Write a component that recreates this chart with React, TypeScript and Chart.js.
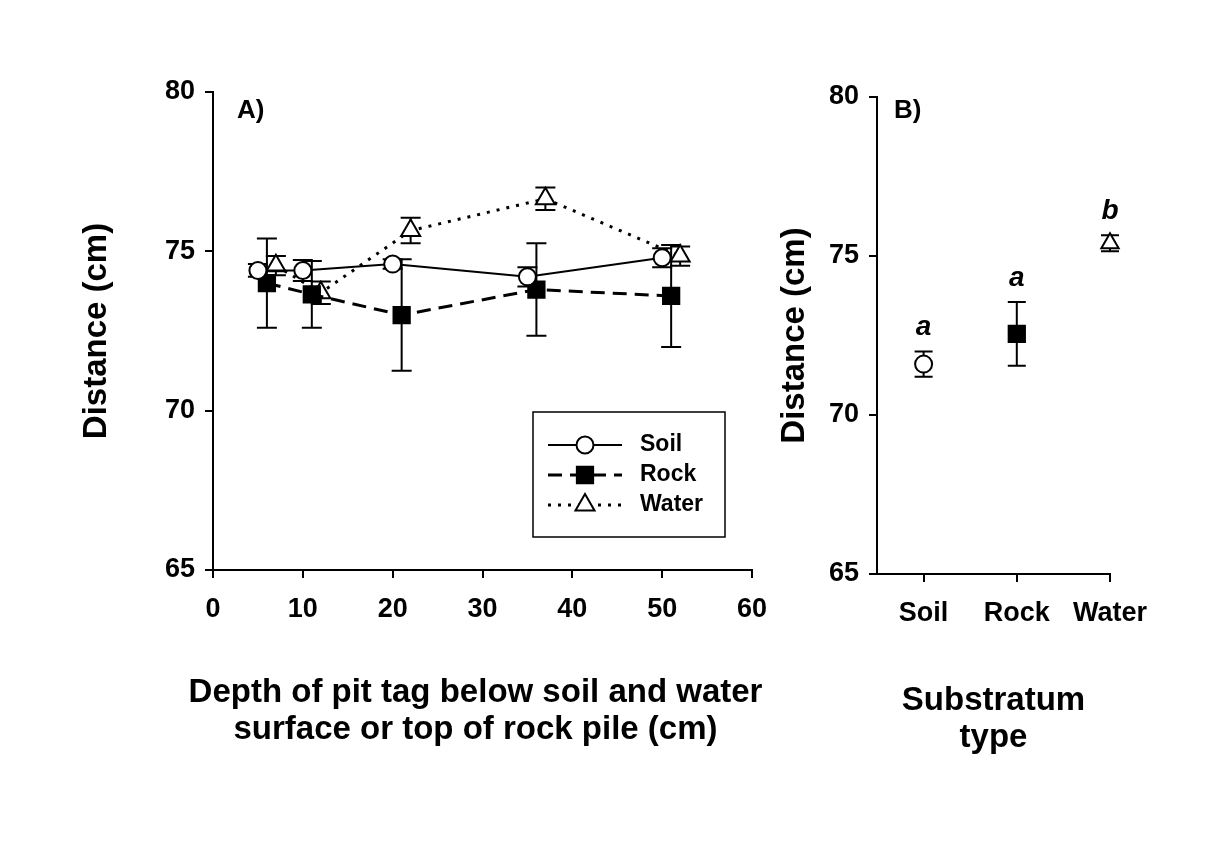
import React, { useEffect, useRef } from 'react';
import { Chart, registerables } from 'chart.js';
import { drawPoint } from 'chart.js/helpers';

Chart.register(...registerables);

const FONT = "'Liberation Sans', Arial, Helvetica, sans-serif";

// Panel A: distance by depth of the pit tag, one series per substratum
const soilDepth = [5, 10, 20, 35, 50];
const soilDistance = [74.4, 74.4, 74.6, 74.2, 74.8];
const soilError = [0.2, 0.33, 0.15, 0.3, 0.3];

const rockDepth = [6, 11, 21, 36, 51];
const rockDistance = [74.0, 73.65, 73.0, 73.8, 73.6];
const rockError = [1.4, 1.05, 1.75, 1.45, 1.6];

const waterDepth = [7, 12, 22, 37, 52];
const waterDistance = [74.55, 73.7, 75.65, 76.65, 74.85];
const waterError = [0.3, 0.35, 0.4, 0.35, 0.3];

const depthTicks = [0, 10, 20, 30, 40, 50, 60];
const distanceTicks = [65, 70, 75, 80];
const depthTitle = ['Depth of pit tag below soil and water', 'surface or top of rock pile (cm)'];

// Panel B: mean distance per substratum type
const substrata = ['Soil', 'Rock', 'Water'];
const substrateDistance = [71.6, 72.55, 75.4];
const substrateError = [0.4, 1.0, 0.25];
const substrateGroups = ['a', 'a', 'b'];

const titleFont = { family: FONT, size: 33, weight: 'bold' as const, lineHeight: '37px' };
const tickFont = { family: FONT, size: 27, weight: 'bold' as const };

const errorBars = {
  id: 'errorBars',
  beforeDatasetsDraw(chart: any, _args: any, opts: any) {
    const { ctx, scales } = chart;
    const x = scales.x;
    const y = scales.y;
    const cap = opts.cap ?? 10;
    ctx.save();
    ctx.strokeStyle = '#000';
    ctx.lineWidth = 2;
    ctx.setLineDash([]);
    chart.data.datasets.forEach((ds: any) => {
      if (!ds.errors) return;
      ds.data.forEach((p: any, i: number) => {
        const e = ds.errors[i];
        const px = x.getPixelForValue(p.x);
        const top = y.getPixelForValue(p.y + e);
        const bot = y.getPixelForValue(p.y - e);
        ctx.beginPath();
        ctx.moveTo(px, top);
        ctx.lineTo(px, bot);
        ctx.moveTo(px - cap, top);
        ctx.lineTo(px + cap, top);
        ctx.moveTo(px - cap, bot);
        ctx.lineTo(px + cap, bot);
        ctx.stroke();
      });
    });
    ctx.restore();
  },
};

const panelLabel = {
  id: 'panelLabel',
  afterDraw(chart: any, _args: any, opts: any) {
    const { ctx, chartArea } = chart;
    ctx.save();
    ctx.fillStyle = '#000';
    ctx.font = `bold 26px ${FONT}`;
    ctx.textAlign = 'left';
    ctx.textBaseline = 'middle';
    ctx.fillText(opts.text, chartArea.left + opts.dx, chartArea.top + opts.dy);
    ctx.restore();
  },
};

// Two-line caption under the depth axis, drawn without a width limit
const axisCaption = {
  id: 'axisCaption',
  afterDraw(chart: any, _args: any, opts: any) {
    if (!opts.lines) return;
    const { ctx, chartArea } = chart;
    const cx = (chartArea.left + chartArea.right) / 2 + opts.dx;
    ctx.save();
    ctx.fillStyle = '#000';
    ctx.font = `bold 33px ${FONT}`;
    ctx.textAlign = 'center';
    ctx.textBaseline = 'middle';
    opts.lines.forEach((line: string, i: number) => {
      ctx.fillText(line, cx, chartArea.bottom + opts.dy + i * 37);
    });
    ctx.restore();
  },
};

const seriesLegend = {
  id: 'seriesLegend',
  afterDraw(chart: any, _args: any, opts: any) {
    if (!opts.show) return;
    const { ctx, chartArea } = chart;
    const left = chartArea.left + 320;
    const top = chartArea.top + 320;
    const w = 192;
    const h = 125;
    ctx.save();
    ctx.fillStyle = '#fff';
    ctx.fillRect(left, top, w, h);
    ctx.strokeStyle = '#000';
    ctx.lineWidth = 1.5;
    ctx.setLineDash([]);
    ctx.strokeRect(left, top, w, h);
    chart.data.datasets.forEach((ds: any, i: number) => {
      const rowY = top + 33 + i * 30;
      ctx.strokeStyle = '#000';
      ctx.lineWidth = ds.borderWidth;
      ctx.setLineDash(ds.borderDash || []);
      ctx.beginPath();
      ctx.moveTo(left + 15, rowY);
      ctx.lineTo(left + 89, rowY);
      ctx.stroke();
      ctx.setLineDash([]);
      ctx.fillStyle = ds.pointBackgroundColor;
      ctx.strokeStyle = ds.pointBorderColor;
      ctx.lineWidth = ds.pointBorderWidth;
      drawPoint(
        ctx,
        { pointStyle: ds.pointStyle, radius: ds.pointRadius, borderWidth: ds.pointBorderWidth, rotation: 0 } as any,
        left + 52,
        rowY
      );
      ctx.fillStyle = '#000';
      ctx.font = `bold 23px ${FONT}`;
      ctx.textAlign = 'left';
      ctx.textBaseline = 'middle';
      ctx.fillText(ds.label, left + 107, rowY);
    });
    ctx.restore();
  },
};

const groupLetters = {
  id: 'groupLetters',
  afterDatasetsDraw(chart: any, _args: any, opts: any) {
    if (!opts.letters) return;
    const { ctx, scales } = chart;
    const ds: any = chart.data.datasets[0];
    ctx.save();
    ctx.fillStyle = '#000';
    ctx.font = `italic bold 28px ${FONT}`;
    ctx.textAlign = 'center';
    ctx.textBaseline = 'alphabetic';
    ds.data.forEach((p: any, i: number) => {
      const px = scales.x.getPixelForValue(p.x);
      const top = scales.y.getPixelForValue(p.y + ds.errors[i]);
      ctx.fillText(opts.letters[i], px, top - 16);
    });
    ctx.restore();
  },
};

function yAxis(width: number, titlePad: number) {
  return {
    type: 'linear' as const,
    min: 65,
    max: 80,
    afterBuildTicks: (s: any) => {
      s.ticks = distanceTicks.map((v) => ({ value: v }));
    },
    afterFit: (s: any) => {
      s.width = width;
    },
    border: { display: true, color: '#000', width: 2 },
    grid: { drawOnChartArea: false, drawTicks: true, tickLength: 8, color: '#000', lineWidth: 2 },
    ticks: { color: '#000', font: tickFont, padding: 10 },
    title: {
      display: true,
      text: 'Distance (cm)',
      color: '#000',
      font: titleFont,
      padding: { top: titlePad, bottom: 0 },
    },
  };
}

function xAxisBase(height: number) {
  return {
    type: 'linear' as const,
    afterFit: (s: any) => {
      s.height = height;
    },
    border: { display: true, color: '#000', width: 2 },
    grid: { drawOnChartArea: false, drawTicks: true, tickLength: 8, color: '#000', lineWidth: 2 },
  };
}

function makeDepthChart(canvas: HTMLCanvasElement) {
  const series = [
    { label: 'Soil', xs: soilDepth, ys: soilDistance, err: soilError, style: 'circle', r: 8.5, fill: '#fff', dash: [], width: 2 },
    { label: 'Rock', xs: rockDepth, ys: rockDistance, err: rockError, style: 'rect', r: 11.5, fill: '#000', dash: [14, 8], width: 3 },
    { label: 'Water', xs: waterDepth, ys: waterDistance, err: waterError, style: 'triangle', r: 11, fill: '#fff', dash: [3, 7], width: 3 },
  ];
  return new Chart(canvas, {
    type: 'scatter',
    data: {
      datasets: series.map((s) => ({
        label: s.label,
        data: s.xs.map((x, i) => ({ x, y: s.ys[i] })),
        errors: s.err,
        showLine: true,
        borderColor: '#000',
        borderWidth: s.width,
        borderDash: s.dash,
        pointStyle: s.style,
        pointRadius: s.r,
        pointHoverRadius: s.r,
        pointBackgroundColor: s.fill,
        pointBorderColor: '#000',
        pointBorderWidth: 2,
        clip: false,
      })) as any,
    },
    options: {
      responsive: false,
      animation: false,
      devicePixelRatio: 1,
      layout: { padding: { left: 0, top: 92, right: 48, bottom: 0 } },
      scales: {
        x: {
          ...xAxisBase(230),
          min: 0,
          max: 60,
          afterBuildTicks: (s: any) => {
            s.ticks = depthTicks.map((v) => ({ value: v }));
          },
          ticks: { color: '#000', font: tickFont, padding: 15, maxRotation: 0, autoSkip: false },
        },
        y: yAxis(213, 78),
      },
      plugins: {
        legend: { display: false },
        tooltip: { enabled: false },
        errorBars: { cap: 10 },
        panelLabel: { text: 'A)', dx: 24, dy: 19 },
        seriesLegend: { show: true },
        groupLetters: {},
        axisCaption: { lines: depthTitle, dx: -7, dy: 123 },
      } as any,
    },
    plugins: [errorBars, panelLabel, seriesLegend, groupLetters, axisCaption],
  });
}

function makeSubstrateChart(canvas: HTMLCanvasElement) {
  return new Chart(canvas, {
    type: 'scatter',
    data: {
      datasets: [
        {
          label: 'Substratum',
          data: substrata.map((_, i) => ({ x: i, y: substrateDistance[i] })),
          errors: substrateError,
          showLine: false,
          pointStyle: ['circle', 'rect', 'triangle'],
          pointRadius: [8.5, 11.5, 10],
          pointHoverRadius: [8.5, 11.5, 10],
          pointBackgroundColor: ['#fff', '#000', '#fff'],
          pointBorderColor: '#000',
          pointBorderWidth: 2,
          clip: false,
        } as any,
      ],
    },
    options: {
      responsive: false,
      animation: false,
      devicePixelRatio: 1,
      layout: { padding: { left: 0, top: 97, right: 104, bottom: 0 } },
      scales: {
        x: {
          ...xAxisBase(226),
          min: -0.5,
          max: 2,
          afterBuildTicks: (s: any) => {
            s.ticks = substrata.map((_, i) => ({ value: i }));
          },
          ticks: {
            color: '#000',
            font: tickFont,
            padding: 15,
            maxRotation: 0,
            autoSkip: false,
            callback: (v: any) => substrata[Number(v)] ?? '',
          },
          title: {
            display: true,
            text: ['Substratum', 'type'],
            color: '#000',
            font: titleFont,
            padding: { top: 0, bottom: 44 },
          },
        },
        y: yAxis(117, 16.5),
      },
      plugins: {
        legend: { display: false },
        tooltip: { enabled: false },
        errorBars: { cap: 9 },
        panelLabel: { text: 'B)', dx: 17, dy: 14 },
        seriesLegend: { show: false },
        groupLetters: { letters: substrateGroups },
        axisCaption: {},
      } as any,
    },
    plugins: [errorBars, panelLabel, seriesLegend, groupLetters, axisCaption],
  });
}

export default function App() {
  const depthRef = useRef<HTMLCanvasElement>(null);
  const substrateRef = useRef<HTMLCanvasElement>(null);

  useEffect(() => {
    const a = makeDepthChart(depthRef.current!);
    const b = makeSubstrateChart(substrateRef.current!);
    return () => {
      a.destroy();
      b.destroy();
    };
  }, []);

  return (
    <div style={{ position: 'absolute', left: 0, top: 0, width: 1214, height: 852, background: '#fff', overflow: 'hidden' }}>
      <canvas
        ref={depthRef}
        width={800}
        height={800}
        style={{ position: 'absolute', left: 0, top: 0, width: 800, height: 800, display: 'block' }}
      />
      <canvas
        ref={substrateRef}
        width={454}
        height={800}
        style={{ position: 'absolute', left: 760, top: 0, width: 454, height: 800, display: 'block' }}
      />
    </div>
  );
}
